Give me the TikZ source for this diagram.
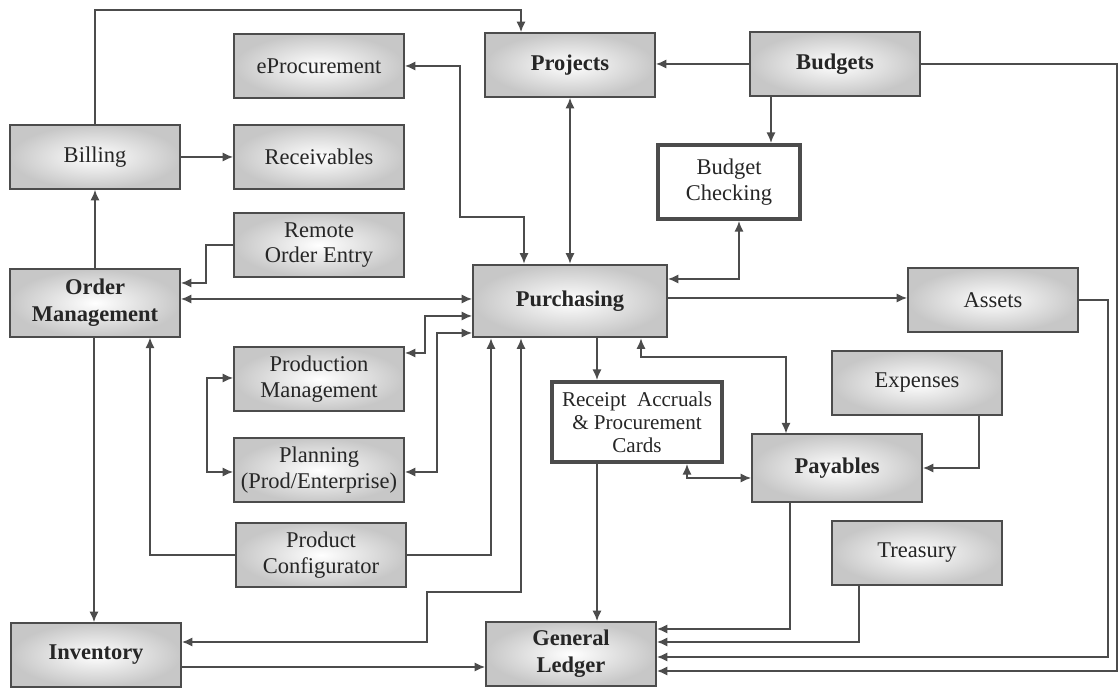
\documentclass[tikz,border=0pt]{standalone}
\usepackage{fontspec}
\setmainfont{Liberation Serif}
\usepackage{tikz}
\usetikzlibrary{arrows, arrows.meta, positioning, calc}
\tikzstyle{module} = [rectangle, minimum width=4.25cm, minimum height=1.6cm, text centered, align=center, draw=black!70, line width=1.3pt, inner color=white, outer color=black!22, text=black!85, font=\fontsize{16}{18}\selectfont]
\tikzstyle{coremod} = [module, font=\fontsize{16}{19}\selectfont\bfseries]
\tikzstyle{checkmod} = [rectangle, minimum width=4.25cm, minimum height=1.6cm, text centered, align=center, draw=black!70, line width=3pt, fill=white, text=black!85, font=\fontsize{16}{18}\selectfont]
\tikzstyle{arrow} = [line width=1pt, draw=black!70, ->, >={Latex[length=7.5pt,width=6.5pt]}]
\tikzstyle{darrow} = [line width=1pt, draw=black!70, <->, >={Latex[length=7.5pt,width=6.5pt]}]

\begin{document}
\begin{tikzpicture}[x=0.025cm, y=-0.025cm]
      \useasboundingbox (0,0) rectangle (1120,688);

      % Top row
      \node[coremod] (proj) at (570,65) {Projects};
      \node[coremod] (budg) at (835,64) {Budgets};
      \node[module] (eproc) at (319,66) {eProcurement};

      % Left column and centre
      \node[module] (bill) at (95,157) {Billing};
      \node[module] (recv) at (319,157) {Receivables};
      \node[checkmod, minimum width=3.55cm, minimum height=1.85cm] (bchk) at (729,182) {Budget\\Checking};
      \node[module] (roe) at (319,245) {Remote\\Order Entry};
      \node[coremod, minimum height=1.68cm] (om) at (95,303) {Order\\Management};
      \node[coremod, minimum width=4.85cm, minimum height=1.82cm] (purch) at (570,301) {Purchasing};
      \node[module] (asset) at (993,300) {Assets};
      \node[module] (prodm) at (319,379) {Production\\Management};
      \node[module] (exp) at (917,383) {Expenses};
      \node[checkmod, minimum height=2cm, font=\fontsize{15}{16.5}\selectfont] (ra) at (637,422) {Receipt~~Accruals\\\& Procurement\\Cards};
      \node[module] (plan) at (319,470) {Planning\\(Prod/Enterprise)};
      \node[coremod, minimum height=1.68cm] (pay) at (837,468) {Payables};
      \node[module] (pconf) at (321,555) {Product\\Configurator};
      \node[module] (treas) at (917,553) {Treasury};

      % Bottom row
      \node[coremod] (inv) at (96,655) {Inventory};
      \node[coremod] (gl) at (571,654) {General\\Ledger};

      % Top connectors
      \draw[arrow] (bill.north) |- (521,10) -- (521,0 |- proj.north);
      \draw[arrow] (budg.west) -- (proj.east |- budg.west);
      \draw[arrow] (771,0 |- budg.south) -- (771,0 |- bchk.north);
      \draw[arrow] (budg.east) -| (1117,671) -- (gl.east |- 0,671);
      \draw[darrow] (eproc.east) -| (460,217) -| (524,0 |- purch.north);
      \draw[darrow] (proj.south) -- (purch.north);
      \draw[arrow] (bill.east) -- (recv.west |- bill.east);

      % Order management side
      \draw[arrow] (om.north) -- (bill.south);
      \draw[arrow] (roe.west) -| (206,283) -- (om.east |- 0,283);
      \draw[darrow] (om.east |- 0,299) -- (purch.west |- 0,299);
      \draw[darrow] (prodm.east |- 0,353) -| (425,316) -- (purch.west |- 0,316);
      \draw[darrow] (plan.east |- 0,472) -| (437,333) -- (purch.west |- 0,333);
      \draw[darrow] (prodm.west |- 0,378) -| (207,472) -- (plan.west |- 0,472);
      \draw[arrow] (pconf.west) -| (150,0 |- om.south);
      \draw[arrow] (pconf.east) -| (491,0 |- purch.south);
      \draw[darrow] (inv.east |- 0,642) -| (427,592) -| (521,0 |- purch.south);
      \draw[arrow] (94,0 |- om.south) -- (94,0 |- inv.north);
      \draw[arrow] (inv.east |- 0,667) -- (gl.west |- 0,667);

      % Purchasing side
      \draw[darrow] (739,0 |- bchk.south) |- (purch.east |- 0,279);
      \draw[arrow] (purch.east |- 0,298) -- (asset.west |- 0,298);
      \draw[arrow] (asset.east) -| (1108,657) -- (gl.east |- 0,657);
      \draw[arrow] (597,0 |- purch.south) -- (597,0 |- ra.north);
      \draw[darrow] (641,0 |- purch.south) |- (786,357) -- (786,0 |- pay.north);
      \draw[arrow] (979,0 |- exp.south) |- (pay.east |- 0,468);
      \draw[darrow] (687,0 |- ra.south) |- (pay.west |- 0,478);

      % Into the ledger
      \draw[arrow] (597,0 |- ra.south) -- (597,0 |- gl.north);
      \draw[arrow] (790,0 |- pay.south) |- (gl.east |- 0,629);
      \draw[arrow] (859,0 |- treas.south) |- (gl.east |- 0,642);
\end{tikzpicture}
\end{document}
